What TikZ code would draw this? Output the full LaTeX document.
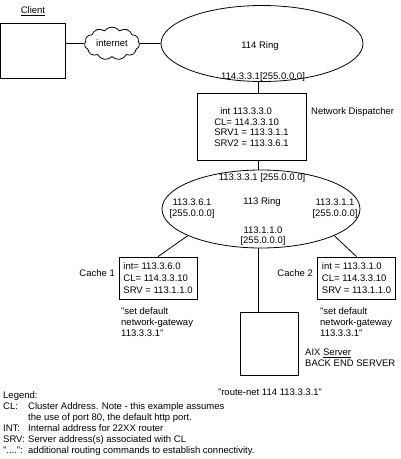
\documentclass[tikz,border=0pt]{standalone}
\usepackage{fontspec}
\setmainfont{Liberation Sans}
\usetikzlibrary{shapes.geometric,shapes.symbols}
\begin{document}
\begin{tikzpicture}[x=1pt,y=-1pt,
  every node/.style={font=\fontsize{9.5}{10.5}\selectfont, inner sep=0pt},
  box/.style={draw, line width=0.8pt, rectangle},
  ring/.style={draw, ellipse, line width=0.8pt},
  conn/.style={line width=0.8pt}]
\useasboundingbox (0,0) rectangle (400,459);
% client
\node (clientlbl) at (33,11) {\underline{Client}};
\node[box, minimum width=65pt, minimum height=55pt] (client) at (33,50.5) {};
\node[draw, cloud, cloud puffs=11, cloud puff arc=110, aspect=1.7,
      minimum width=55pt, minimum height=33pt, line width=0.8pt] (inet) at (112,43.5) {internet};
% 114 ring
\node[ring, minimum width=202pt, minimum height=76pt] (ring114) at (262,43.5) {};
\node (r114name) at (260,46) {114 Ring};
\node (r114addr) at (263,77) {114.3.3.1[255.0.0.0]};
% dispatcher
\node[box, minimum width=109pt, minimum height=67pt, align=left] (disp) at (251.5,127)
  {\hspace*{6pt}int 113.3.3.0\\CL= 114.3.3.10\\SRV1 = 113.3.1.1\\SRV2 = 113.3.6.1};
\node[anchor=west] (dispname) at (311,112) {Network Dispatcher};
% 113 ring
\node[ring, minimum width=198pt, minimum height=78pt] (ring113) at (261,209) {};
\node (r113addr) at (262,178) {113.3.3.1 [255.0.0.0]};
\node (r113name) at (262,202) {113 Ring};
\node[align=center] (r113left) at (192,208.5) {113.3.6.1\\{}[255.0.0.0]};
\node[align=center] (r113right) at (335,208.5) {113.3.1.1\\{}[255.0.0.0]};
\node[align=center] (r113bottom) at (263,236) {113.1.1.0\\{}[255.0.0.0]};
% caches
\node[box, minimum width=78pt, minimum height=42pt, align=left,
      font=\fontsize{9.5}{12}\selectfont] (cache1) at (158,278)
  {int= 113.3.6.0\\CL= 114.3.3.10\\SRV = 113.1.1.0};
\node[anchor=east] (cache1lbl) at (115,273) {Cache 1};
\node[anchor=north west, align=left, font=\fontsize{9.5}{11}\selectfont] (cache1cmd) at (121,307)
  {"set default\\network-gateway\\113.3.3.1"};
\node[box, minimum width=78pt, minimum height=42pt, align=left,
      font=\fontsize{9.5}{12}\selectfont] (cache2) at (356.5,278)
  {int = 113.3.1.0\\CL= 114.3.3.10\\SRV = 113.1.1.0};
\node[anchor=east] (cache2lbl) at (313,273) {Cache 2};
\node[anchor=north west, align=left, font=\fontsize{9.5}{11}\selectfont] (cache2cmd) at (320,307)
  {"set default\\network-gateway\\113.3.3.1"};
% server
\node[box, minimum width=58pt, minimum height=63pt] (aix) at (269,343.5) {};
\node[anchor=north west, align=left] (aixlbl) at (305,349) {AIX \underline{Server}\\BACK END SERVER};
\node (route) at (270,392) {"route-net 114 113.3.3.1"};
% legend
\node[anchor=north west, font=\fontsize{9.5}{11}\selectfont] (legend) at (3,390.5)
  {\begin{tabular}{@{}p{25pt}@{}l@{}}
   \multicolumn{2}{@{}l}{Legend:}\\
   CL: & Cluster Address. Note - this example assumes\\
       & the use of port 80, the default http port.\\
   INT: & Internal address for 22XX router\\
   SRV: & Server address(s) associated with CL\\
   "....": & additional routing commands to establish connectivity.
   \end{tabular}};
% connectors
\draw[conn] (client.east |- inet.west) -- (inet.west);
\draw[conn] (inet.east) -- (ring114.west);
\draw[conn] ([xshift=6.5pt]disp.north) -- ([xshift=-4pt]ring114.south);
\draw[conn] ([xshift=6.5pt]disp.south) -- ([xshift=-3pt]ring113.north);
\draw[conn] ([xshift=-3pt]ring113.south) -- ([xshift=-11pt]aix.north);
\draw[conn] (ring113.200) -- (cache1.north);
\draw[conn] (ring113.-20) -- (cache2.north);
\end{tikzpicture}
\end{document}
